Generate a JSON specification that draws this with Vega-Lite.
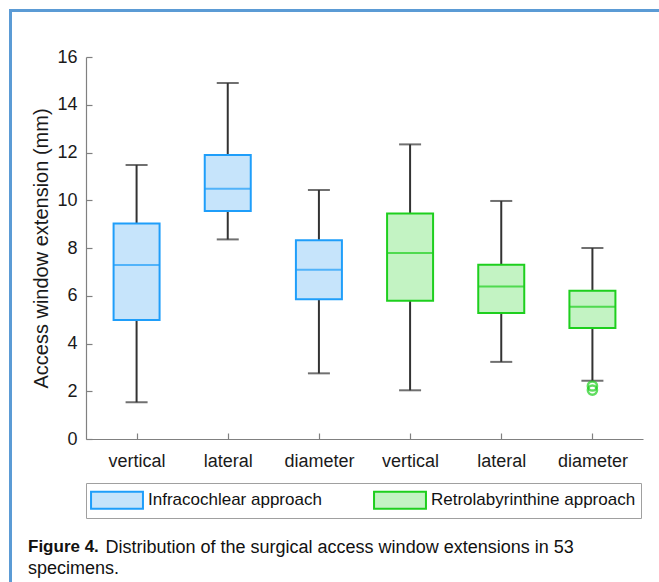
{
  "$schema": "https://vega.github.io/schema/vega-lite/v6.json",
  "width": 649,
  "height": 572,
  "autosize": {"type": "none"},
  "padding": {"left": 10, "top": 10, "right": 0, "bottom": 0},
  "background": "white",
  "datasets": {
    "boxes": [
      {"pos": 1, "measure": "vertical", "approach": "Infracochlear approach", "lower": 1.54, "q1": 4.98, "median": 7.29, "q3": 9.03, "upper": 11.48},
      {"pos": 2, "measure": "lateral", "approach": "Infracochlear approach", "lower": 8.36, "q1": 9.55, "median": 10.48, "q3": 11.9, "upper": 14.91},
      {"pos": 3, "measure": "diameter", "approach": "Infracochlear approach", "lower": 2.75, "q1": 5.85, "median": 7.09, "q3": 8.32, "upper": 10.43},
      {"pos": 4, "measure": "vertical", "approach": "Retrolabyrinthine approach", "lower": 2.04, "q1": 5.79, "median": 7.79, "q3": 9.44, "upper": 12.34},
      {"pos": 5, "measure": "lateral", "approach": "Retrolabyrinthine approach", "lower": 3.23, "q1": 5.28, "median": 6.39, "q3": 7.3, "upper": 9.97},
      {"pos": 6, "measure": "diameter", "approach": "Retrolabyrinthine approach", "lower": 2.44, "q1": 4.65, "median": 5.54, "q3": 6.21, "upper": 8.0}
    ],
    "outliers": [
      {"pos": 6, "measure": "diameter", "approach": "Retrolabyrinthine approach", "value": 2.22},
      {"pos": 6, "measure": "diameter", "approach": "Retrolabyrinthine approach", "value": 2.05}
    ]
  },
  "title": {
    "text": "Figure 4.",
    "subtitle": "specimens.",
    "orient": "bottom",
    "frame": "group",
    "anchor": "start",
    "offset": -46,
    "dx": 18,
    "font": "Liberation Sans",
    "fontWeight": "bold",
    "fontSize": 17,
    "color": "#111111",
    "subtitleFont": "Liberation Sans",
    "subtitleFontSize": 18,
    "subtitleColor": "#111111",
    "subtitlePadding": 4
  },
  "resolve": {"scale": {"x": "independent", "y": "independent"}},
  "layer": [
    {
      "data": {"name": "boxes"},
      "mark": {"type": "point", "opacity": 0},
      "encoding": {
        "x": {"field": "pos", "type": "quantitative", "scale": {"zero": false, "nice": false},
          "axis": {"orient": "top", "offset": 0, "domain": true, "domainColor": "#5b9bd5", "domainWidth": 3, "domainCap": "square", "ticks": false, "labels": false, "grid": false, "title": null}},
        "y": {"field": "median", "type": "quantitative", "scale": {"zero": false, "nice": false},
          "axis": {"orient": "left", "offset": 0, "domain": true, "domainColor": "#5b9bd5", "domainWidth": 3, "domainCap": "square", "ticks": false, "labels": false, "grid": false,
            "title": "Distribution of the surgical access window extensions in 53", "titleAngle": 0, "titleAlign": "left", "titleBaseline": "alphabetic",
            "titleX": 95, "titleY": 542, "titleFont": "Liberation Sans", "titleFontSize": 18, "titleFontWeight": "normal", "titleColor": "#111111", "titleLimit": 1000}}
      }
    },
    {
      "encoding": {
        "x": {"field": "pos", "type": "quantitative",
          "scale": {"domain": [0.5, 6.5], "range": [76, 633], "nice": false, "zero": false},
          "axis": {"orient": "bottom", "offset": -143, "values": [1, 2, 3, 4, 5, 6],
            "labelExpr": "['', 'vertical', 'lateral', 'diameter', 'vertical', 'lateral', 'diameter'][datum.value]",
            "grid": false, "domainColor": "#808080", "domainWidth": 1.2, "tickColor": "#808080", "tickWidth": 1.2, "tickSize": -6,
            "labelPadding": 19, "labelFontSize": 18, "labelColor": "#1a1a1a", "labelFont": "Liberation Sans", "title": null}}
      },
      "layer": [
        {
          "data": {"name": "boxes"},
          "mark": {"type": "rule", "color": "#333333", "strokeWidth": 2},
          "encoding": {
            "y": {"field": "lower", "type": "quantitative",
              "scale": {"domain": [0, 16], "range": [429, 47], "nice": false, "zero": false},
              "axis": {"orient": "left", "offset": -76, "values": [0, 2, 4, 6, 8, 10, 12, 14, 16], "grid": false,
                "domainColor": "#808080", "domainWidth": 1.2, "tickColor": "#808080", "tickWidth": 1.2, "tickSize": -6,
                "labelPadding": 15, "labelFontSize": 18, "labelColor": "#1a1a1a", "labelFont": "Liberation Sans",
                "title": "Access window extension (mm)", "titleFont": "Liberation Sans", "titleFontSize": 20, "titleFontWeight": "normal",
                "titleColor": "#1a1a1a", "titleX": -39, "titleY": 238, "titleAngle": -90, "titleBaseline": "alphabetic", "titleAlign": "center"}},
            "y2": {"field": "upper"}
          }
        },
        {
          "data": {"name": "boxes"},
          "mark": {"type": "tick", "orient": "horizontal", "color": "#333333", "size": 22, "thickness": 2},
          "encoding": {"y": {"field": "lower", "type": "quantitative"}}
        },
        {
          "data": {"name": "boxes"},
          "mark": {"type": "tick", "orient": "horizontal", "color": "#333333", "size": 22, "thickness": 2},
          "encoding": {"y": {"field": "upper", "type": "quantitative"}}
        },
        {
          "data": {"name": "boxes"},
          "mark": {"type": "bar", "width": 46, "strokeWidth": 2, "opacity": 1},
          "encoding": {
            "y": {"field": "q1", "type": "quantitative"},
            "y2": {"field": "q3"},
            "fill": {"field": "approach", "type": "nominal",
              "scale": {"domain": ["Infracochlear approach", "Retrolabyrinthine approach"], "range": ["#c6e4fb", "#c3f3c3"]},
              "legend": {"orient": "none", "legendX": 76, "legendY": 473, "direction": "horizontal", "title": null,
                "strokeColor": "#a0a0a0", "fillColor": "white", "padding": 5,
                "symbolType": "M-2.36,-0.77H2.36V0.77H-2.36Z", "symbolSize": 484, "symbolStrokeWidth": 2, "symbolOffset": 14,
                "labelFont": "Liberation Sans", "labelFontSize": 17, "labelColor": "#111111", "labelOffset": 19, "labelLimit": 400, "columnPadding": 48}},
            "stroke": {"field": "approach", "type": "nominal",
              "scale": {"domain": ["Infracochlear approach", "Retrolabyrinthine approach"], "range": ["#1f9efa", "#1ecf1e"]}}
          }
        },
        {
          "data": {"name": "boxes"},
          "mark": {"type": "tick", "orient": "horizontal", "size": 46, "thickness": 2},
          "encoding": {
            "y": {"field": "median", "type": "quantitative"},
            "color": {"field": "approach", "type": "nominal",
              "scale": {"domain": ["Infracochlear approach", "Retrolabyrinthine approach"], "range": ["#1f9efa", "#1ecf1e"]},
              "legend": null}
          }
        },
        {
          "data": {"name": "outliers"},
          "mark": {"type": "point", "shape": "circle", "filled": false, "size": 85, "strokeWidth": 2.5},
          "encoding": {
            "y": {"field": "value", "type": "quantitative"},
            "color": {"field": "approach", "type": "nominal", "legend": null}
          }
        }
      ]
    }
  ],
  "config": {
    "view": {"stroke": null},
    "font": "Liberation Sans"
  }
}
